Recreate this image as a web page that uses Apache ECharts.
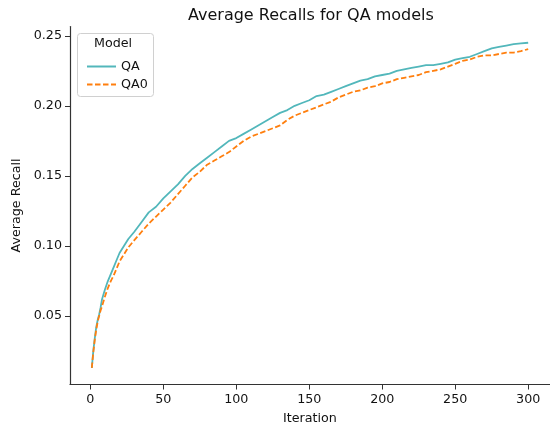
<!DOCTYPE html>
<html>
<head>
<meta charset="utf-8">
<script src="https://cdn.jsdelivr.net/npm/echarts@6/dist/echarts.min.js"></script>
<style>html,body{margin:0;padding:0;background:#fff}#c{width:550px;height:426px}</style>
</head>
<body>
<div id="c"></div>
<script>
var iterations = [1,2,3,4,5,6,7,8,10,12,14,16,18,20,23,26,30,35,40,45,50,55,60,65,70,75,80,85,90,95,100,105,110,115,120,125,130,135,140,145,150,155,160,165,170,175,180,185,190,195,200,205,210,215,220,225,230,235,240,245,250,255,260,265,270,275,280,285,290,295,300];
var qa = [0.013,0.025,0.034,0.042,0.047,0.051,0.056,0.062,0.069,0.075,0.080,0.085,0.090,0.095,0.100,0.105,0.110,0.117,0.124,0.128,0.134,0.139,0.144,0.150,0.155,0.159,0.163,0.167,0.171,0.175,0.177,0.180,0.183,0.186,0.189,0.192,0.195,0.197,0.200,0.202,0.204,0.207,0.208,0.210,0.212,0.214,0.216,0.218,0.219,0.221,0.222,0.223,0.225,0.226,0.227,0.228,0.229,0.229,0.230,0.231,0.233,0.234,0.235,0.237,0.239,0.241,0.242,0.243,0.244,0.2445,0.245];
var qa0 = [0.013,0.024,0.033,0.040,0.046,0.050,0.054,0.057,0.064,0.070,0.075,0.079,0.084,0.089,0.094,0.099,0.104,0.110,0.116,0.121,0.126,0.131,0.137,0.143,0.149,0.153,0.158,0.161,0.164,0.167,0.171,0.175,0.178,0.180,0.182,0.184,0.186,0.190,0.193,0.195,0.197,0.199,0.201,0.203,0.206,0.208,0.210,0.211,0.213,0.214,0.216,0.217,0.219,0.220,0.221,0.222,0.224,0.225,0.226,0.228,0.230,0.232,0.233,0.235,0.236,0.236,0.237,0.238,0.238,0.239,0.2405];
var xTicks = [0,50,100,150,200,250,300];
var yTicks = [0.05,0.10,0.15,0.20,0.25];
var seriesNames = ['QA','QA0'];

function pairs(xs, ys){ return xs.map(function(x,i){ return [x, ys[i]]; }); }

var font = 'DejaVu Sans';
var fs = 12.7;
var chart = echarts.init(document.getElementById('c'), null, {renderer:'canvas'});
chart.setOption({
  animation:false,
  backgroundColor:'#fff',
  title:{text:'Average Recalls for QA models', left:183, top:3,
    textStyle:{fontFamily:font, fontSize:16, fontWeight:'normal', color:'#111'}},
  grid:{left:70, right:0, top:26.5, bottom:41.5, containLabel:false, outerBoundsMode:'none'},
  xAxis:{type:'value', min:-13.95, max:314.95,
    name:'Iteration', nameLocation:'middle', nameGap:28,
    nameTextStyle:{fontFamily:font, fontSize:fs, color:'#111'},
    axisLine:{onZero:false, lineStyle:{color:'#333', width:1.2}},
    axisTick:{customValues:xTicks, length:5, lineStyle:{color:'#333', width:1}},
    axisLabel:{customValues:xTicks, fontFamily:font, fontSize:fs, color:'#111', margin:9},
    splitLine:{show:false}},
  yAxis:{type:'value', min:0.0012, max:0.2566,
    name:'Average Recall', nameLocation:'middle', nameGap:46, nameRotate:90,
    nameTextStyle:{fontFamily:font, fontSize:fs, color:'#111'},
    axisLine:{show:true, onZero:false, lineStyle:{color:'#333', width:1.2}},
    axisTick:{show:true, customValues:yTicks, length:5, lineStyle:{color:'#333', width:1}},
    axisLabel:{customValues:yTicks, fontFamily:font, fontSize:fs, color:'#111', margin:8,
      formatter:function(v){return v.toFixed(2);}},
    splitLine:{show:false}},
  legend:{data:seriesNames, orient:'vertical', left:81, top:55, itemWidth:29, itemHeight:10, itemGap:5,
    itemStyle:{opacity:0},
    textStyle:{fontFamily:font, fontSize:fs, color:'#111'}},
  graphic:[
    {type:'rect', left:77, top:33, shape:{width:76, height:63, r:3}, z:-1,
      style:{fill:'rgba(255,255,255,0.8)', stroke:'#d0d0d0', lineWidth:1}},
    {type:'text', left:94, top:37, style:{text:'Model', fontFamily:font, fontSize:fs, fill:'#111'}}
  ],
  series:[
    {name:seriesNames[0], type:'line', data:pairs(iterations, qa), symbol:'none', smooth:false,
      lineStyle:{color:'#52b7bb', width:1.8}, itemStyle:{color:'#52b7bb'}},
    {name:seriesNames[1], type:'line', data:pairs(iterations, qa0), symbol:'none', smooth:false,
      lineStyle:{color:'#ff7f0e', width:1.8, type:[5.5,2.5]}, itemStyle:{color:'#ff7f0e'}}
  ]
});
</script>
</body>
</html>
